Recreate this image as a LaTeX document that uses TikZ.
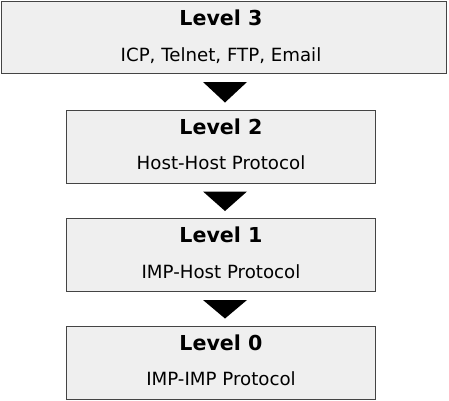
\documentclass[tikz,border=0pt]{standalone}
\usepackage{fontspec}
\setmainfont{DejaVu Sans}
\usepackage{xcolor}
\usetikzlibrary{calc}
\definecolor{boxgray}{HTML}{444444}
\definecolor{boxfill}{HTML}{EFEFEF}
\tikzset{
  levelbox/.style={draw=boxgray, fill=boxfill, line width=1pt, inner sep=0pt,
    minimum width=309pt, minimum height=73pt},
  leveltitle/.style={anchor=base, font=\fontsize{20.6}{24}\selectfont\bfseries},
  levelsub/.style={anchor=base, font=\fontsize{18.2}{22}\selectfont},
  levelarrow/.style={fill=black}
}

\begin{document}
\begin{tikzpicture}[x=1pt,y=1pt]
          \useasboundingbox (0,0) rectangle (449,-400);
          \coordinate (mid) at (225,0);

          \node[levelbox, minimum width=445pt, minimum height=72pt] (l3) at (224,-37.5) {};
          \node[levelbox] (l2) at (221,-146.5) {};
          \node[levelbox] (l1) at (221,-255) {};
          \node[levelbox] (l0) at (221,-362.5) {};

          % titles and protocols
          \foreach \n/\s in {3/{ICP, Telnet, FTP, Email}, 2/Host-Host Protocol,
                             1/IMP-Host Protocol, 0/IMP-IMP Protocol} {
            \node[leveltitle] (t\n) at ($(l\n.north -| l2.north)+(0,-24.5)$) {Level \n};
            \node[levelsub] (s\n) at ($(l\n.north -| l2.north)+(0,-60)$) {\s};
          }

          % arrows between levels
          \foreach \a/\b in {l3/l2, l2/l1, l1/l0}
            \fill[levelarrow] ($(\a.south -| mid)+(-22,-8)$) -- ($(\a.south -| mid)+(22,-8)$)
                              -- ($(\b.north -| mid)+(0,7)$) -- cycle;
\end{tikzpicture}
\end{document}
